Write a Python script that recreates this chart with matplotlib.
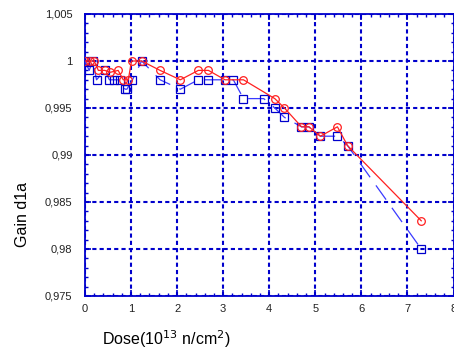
import matplotlib
matplotlib.use("Agg")
import matplotlib.pyplot as plt
from matplotlib.ticker import MultipleLocator, FuncFormatter

plt.rcParams['font.family'] = ['Liberation Sans', 'DejaVu Sans']

# red series (circles)
red_x = [0.0, 0.1, 0.2, 0.29, 0.43, 0.55, 0.72, 0.83, 0.94, 1.01, 1.23, 1.63, 2.07,
         2.46, 2.68, 3.04, 3.44, 4.12, 4.33, 4.70, 4.86, 5.11, 5.48, 5.70, 7.30]
red_y = [1.0, 1.0, 1.0, 0.999, 0.999, 0.9988, 0.999, 0.998, 0.998, 1.0, 1.0, 0.999, 0.998,
         0.999, 0.999, 0.998, 0.998, 0.996, 0.995, 0.993, 0.993, 0.992, 0.993, 0.991, 0.983]

# blue series (squares)
blue_x = [0.0, 0.09, 0.17, 0.25, 0.43, 0.53, 0.62, 0.76, 0.87, 0.91, 1.03, 1.23, 1.63, 2.07,
          2.46, 2.68, 3.04, 3.22, 3.44, 3.88, 4.12, 4.33, 4.70, 4.86, 5.11, 5.48, 5.70, 7.30]
blue_y = [1.0, 0.999, 1.0, 0.998, 0.999, 0.998, 0.998, 0.998, 0.997, 0.997, 0.998, 1.0, 0.998, 0.997,
          0.998, 0.998, 0.998, 0.998, 0.996, 0.996, 0.995, 0.994, 0.993, 0.993, 0.992, 0.992, 0.991, 0.980]

blue = '#0000cc'

fig = plt.figure(figsize=(4.54, 3.51), dpi=100)
ax = fig.add_axes([85 / 454, 1 - 296 / 351, 368.5 / 454, 282 / 351])

ax.plot(blue_x, blue_y, color='#3a3aff', lw=0.9, dashes=(14, 8),
        marker='s', ms=5.5, mfc='none', mec=blue, mew=0.9, zorder=3)
ax.plot(red_x, red_y, color='#ff2020', lw=0.9,
        marker='o', ms=5.5, mfc='none', mec='#ff2020', mew=0.9, zorder=4)

ax.set_xlim(0, 8)
ax.set_ylim(0.975, 1.005)
ax.xaxis.set_major_locator(MultipleLocator(1))
ax.xaxis.set_minor_locator(MultipleLocator(0.2))
ax.yaxis.set_major_locator(MultipleLocator(0.005))
ax.yaxis.set_minor_locator(MultipleLocator(0.001))


def comma(v, pos):
    return f"{round(v, 4):g}".replace('.', ',')


ax.yaxis.set_major_formatter(FuncFormatter(comma))
ax.xaxis.set_major_formatter(FuncFormatter(lambda v, p: f"{v:g}"))

ax.grid(True, which='major', color=blue, lw=1.5, dashes=(2, 1.5))
for s in ax.spines.values():
    s.set_color(blue)
    s.set_linewidth(1.3)

ax.tick_params(which='both', direction='in', top=True, right=True, color=blue,
               labelsize=8, labelcolor='#222222')
ax.tick_params(which='major', length=4, width=1.2)
ax.tick_params(which='minor', length=2.5, width=1)
ax.tick_params(axis='y', pad=9)
ax.tick_params(axis='x', pad=6)

ax.set_ylabel('Gain d1a', fontsize=11.5)
ax.yaxis.set_label_coords(-0.15, 0.29)
ax.set_xlabel('Dose(10$^{13}$ n/cm$^{2}$)', fontsize=11.5)
ax.xaxis.set_label_coords(0.22, -0.115)

fig.savefig('out.png', dpi=100)
